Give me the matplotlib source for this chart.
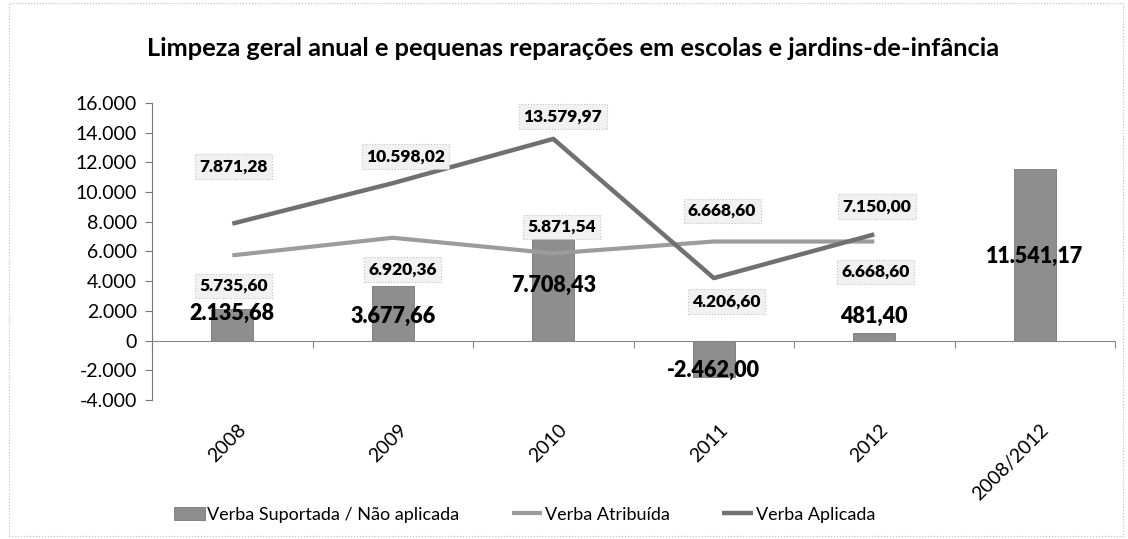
import matplotlib
matplotlib.use("Agg")
import matplotlib.pyplot as plt
import matplotlib.transforms as mtransforms
from matplotlib.patches import Rectangle
from matplotlib.ticker import FuncFormatter
import numpy as np

plt.rcParams['font.family'] = ['Lato', 'DejaVu Sans']

# dados
categorias = ['2008', '2009', '2010', '2011', '2012', '2008/2012']
verba_suportada = [2135.68, 3677.66, 7708.43, -2462.00, 481.40, 11541.17]
verba_atribuida = [5735.60, 6920.36, 5871.54, 6668.60, 6668.60]
verba_aplicada = [7871.28, 10598.02, 13579.97, 4206.60, 7150.00]


def fmt_pt(v, dec=2):
    # formato portugues: 1.234,56
    s = f"{v:,.{dec}f}"
    return s.replace(",", "X").replace(".", ",").replace("X", ".")


fig = plt.figure(figsize=(11.28, 5.39), dpi=100)
ax = fig.add_axes([0.1348, 0.258, 0.8537, 0.551])

x = np.arange(len(categorias))
xl = np.arange(len(verba_atribuida))

b = ax.bar(x, verba_suportada, width=0.26, color='#8e8e8e', edgecolor='#777777',
           linewidth=0.6, label='Verba Suportada / Não aplicada', zorder=2)
l1, = ax.plot(xl, verba_atribuida, color='#9c9c9c', lw=3.0,
              label='Verba Atribuída', zorder=3, solid_capstyle='butt')
l2, = ax.plot(xl, verba_aplicada, color='#707070', lw=3.2,
              label='Verba Aplicada', zorder=3, solid_capstyle='butt')

ax.set_xlim(-0.5, len(categorias) - 0.5)
ax.set_ylim(-4000, 16000)
ax.set_yticks(np.arange(-4000, 16001, 2000))
ax.yaxis.set_major_formatter(FuncFormatter(lambda v, p: fmt_pt(v, 0)))
ax.tick_params(axis='y', labelsize=14, length=5, color='#777777', pad=6)

# eixo x na linha do zero, marcas entre categorias
for s in ['top', 'right']:
    ax.spines[s].set_visible(False)
ax.spines['bottom'].set_position(('data', 0))
ax.spines['bottom'].set_color('#888888')
ax.spines['left'].set_color('#777777')
ax.set_xticks(np.arange(len(categorias) + 1) - 0.5)
ax.set_xticklabels([])
ax.tick_params(axis='x', length=5, color='#888888')

trans = mtransforms.blended_transform_factory(ax.transData, ax.transAxes)
off = mtransforms.ScaledTranslation(0.05, 0, fig.dpi_scale_trans)
for xi, c in zip(x, categorias):
    ax.text(xi, -0.07, c, transform=trans + off, rotation=45, ha='right',
            va='top', rotation_mode='anchor', fontsize=14)

# rotulos de dados
box = dict(boxstyle='square,pad=0.25', facecolor='#f1f1f1',
           edgecolor='#c4c4c4', linestyle=':', linewidth=0.8)

apl_off = [(1, 41), (9, 19), (7, 16), (9, -17), (2, 20)]
atr_off = [(1, -22), (7, -23), (6, 19), (6, 22), (1, -22)]
sup_off = [(0, -3), (0, -22), (0, -43), (0, 5), (0, 12), (0, -63)]

for xi, v, o in zip(xl, verba_aplicada, apl_off):
    ax.annotate(fmt_pt(v), (xi, v), xytext=o, textcoords='offset points',
                ha='center', va='center', fontsize=12.5, fontweight='heavy',
                bbox=box, zorder=5)
for xi, v, o in zip(xl, verba_atribuida, atr_off):
    ax.annotate(fmt_pt(v), (xi, v), xytext=o, textcoords='offset points',
                ha='center', va='center', fontsize=12.5, fontweight='heavy',
                bbox=box, zorder=5)
for xi, v, o in zip(x, verba_suportada, sup_off):
    ax.annotate(fmt_pt(v), (xi, v), xytext=o, textcoords='offset points',
                ha='center', va='center', fontsize=15.5, fontweight='heavy',
                zorder=6)

fig.text(0.508, 0.91, 'Limpeza geral anual e pequenas reparações em escolas e jardins-de-infância',
         ha='center', va='center', fontsize=18.3, fontweight='bold')

fig.legend([b, l1, l2], ['Verba Suportada / Não aplicada', 'Verba Atribuída', 'Verba Aplicada'],
           loc='center', bbox_to_anchor=(0.465, 0.045), ncol=3, frameon=False,
           fontsize=13, handlelength=1.7, handletextpad=0.15, columnspacing=2.9)

fig.patches.append(Rectangle((0.008, 0.006), 0.988, 0.988, transform=fig.transFigure,
                             fill=False, edgecolor='#bdbdbd', lw=0.8, linestyle=':'))

fig.savefig('out.png', dpi=100)
